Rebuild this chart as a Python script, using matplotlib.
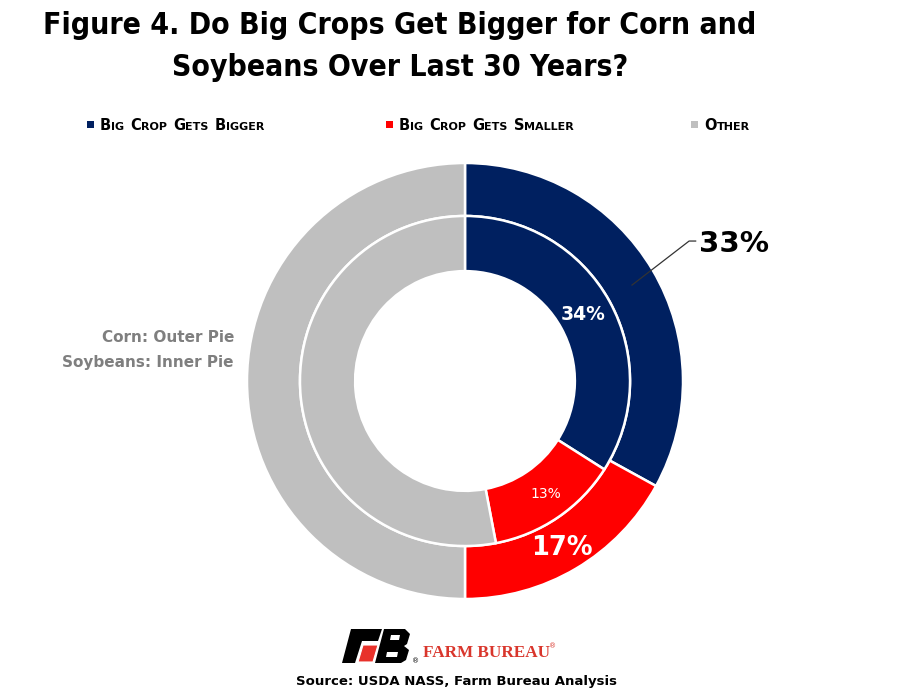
import matplotlib
matplotlib.use("Agg")
import matplotlib.pyplot as plt
from matplotlib import font_manager
from matplotlib.patches import Polygon, Rectangle

# ---------------- data ----------------
categories = ["Big Crop Gets Bigger", "Big Crop Gets Smaller", "Other"]
corn_share = [33, 17, 50]      # outer pie
soy_share = [34, 13, 53]       # inner pie
colors = ["#002060", "#FF0000", "#BFBFBF"]
title_lines = ["Figure 4. Do Big Crops Get Bigger for Corn and",
               "Soybeans Over Last 30 Years?"]
note_lines = ["Corn: Outer Pie", "Soybeans: Inner Pie"]
source_text = "Source: USDA NASS, Farm Bureau Analysis"

W, H = 900, 700
fig = plt.figure(figsize=(9, 7), dpi=100)
fig.patch.set_facecolor("white")

def fx(px):
    return px / W

def fy(py):
    return 1 - py / H

# look for a narrow/condensed bold face for the title
title_fp = None
cands = []
for f in font_manager.fontManager.ttflist:
    nm = f.name.lower()
    fn = f.fname.lower()
    is_narrow = ("narrow" in nm or "condensed" in nm or "narrow" in fn or "condensed" in fn
                 or str(f.stretch) in ("condensed", "semi-condensed"))
    is_bold = (f.weight in ("bold", 700, "semibold", 600)) or "bold" in fn
    if is_narrow and is_bold and "italic" not in fn and "oblique" not in fn:
        cands.append(f)
pref = ["liberation", "dejavu", "roboto", "open", "noto"]
cands.sort(key=lambda f: next((i for i, p in enumerate(pref) if p in f.fname.lower()), 99))
if cands:
    title_fp = font_manager.FontProperties(fname=cands[0].fname, size=21.6)
else:
    title_fp = font_manager.FontProperties(family="DejaVu Sans", weight="bold", size=17)

# ---------------- title ----------------
fig.text(fx(400), fy(26), title_lines[0], ha="center", va="center",
         fontproperties=title_fp, color="black")
fig.text(fx(400), fy(68), title_lines[1], ha="center", va="center",
         fontproperties=title_fp, color="black")

# ---------------- legend (small caps) ----------------
renderer = fig.canvas.get_renderer()

def small_caps(x_px, y_px, text, big=10.5, small=8.0, color="black"):
    x = x_px
    for wi, word in enumerate(text.split(" ")):
        if wi > 0:
            t = fig.text(fx(x), fy(y_px), " ", fontsize=big, fontweight="bold",
                         ha="left", va="baseline")
            x += t.get_window_extent(renderer).width + 1
        t = fig.text(fx(x), fy(y_px), word[0].upper(), fontsize=big, fontweight="bold",
                     ha="left", va="baseline", color=color)
        x += t.get_window_extent(renderer).width
        if len(word) > 1:
            t = fig.text(fx(x), fy(y_px), word[1:].upper(), fontsize=small, fontweight="bold",
                         ha="left", va="baseline", color=color)
            x += t.get_window_extent(renderer).width

legend_x = [91, 390, 695]
for lx, lab, col in zip(legend_x, categories, colors):
    fig.patches.append(Rectangle((fx(lx - 4), fy(128)), 7 / W, 7 / H,
                                 transform=fig.transFigure, facecolor=col,
                                 edgecolor="none", figure=fig))
    small_caps(lx + 9, 130, lab)

# ---------------- pies ----------------
cx, cy, R = 465, 381, 218
ax = fig.add_axes([fx(cx - R), fy(cy + R), 2 * R / W, 2 * R / H])
outer_r = 1.0
inner_r = 0.757
hole_r = 0.504
ax.pie(corn_share, radius=outer_r, colors=colors, startangle=90, counterclock=False,
       wedgeprops=dict(width=outer_r - inner_r, edgecolor="white", linewidth=1.8))
ax.pie(soy_share, radius=inner_r, colors=colors, startangle=90, counterclock=False,
       wedgeprops=dict(width=inner_r - hole_r, edgecolor="white", linewidth=1.8))
ax.set_xlim(-1, 1)
ax.set_ylim(-1, 1)
ax.set_aspect("equal")
ax.axis("off")

# data labels
ax.text(0.541, 0.307, f"{soy_share[0]}%", color="white", fontsize=13.5,
        fontweight="bold", ha="center", va="center")
ax.text(0.372, -0.518, f"{soy_share[1]}%", color="white", fontsize=10,
        ha="center", va="center")
ax.text(0.445, -0.766, f"{corn_share[1]}%", color="white", fontsize=18.5,
        fontweight="bold", ha="center", va="center")
ax.plot([0.766, 1.028, 1.058], [0.44, 0.642, 0.642], color="#333333", lw=0.9,
        clip_on=False)
ax.text(1.075, 0.628, f"{corn_share[0]}%", color="black", fontsize=21,
        fontweight="bold", ha="left", va="center", clip_on=False)

# ---------------- note ----------------
fig.text(fx(234), fy(338), note_lines[0], ha="right", va="center",
         fontsize=11, fontweight="bold", color="#7F7F7F")
fig.text(fx(234), fy(362), note_lines[1], ha="right", va="center",
         fontsize=11, fontweight="bold", color="#7F7F7F")

# ---------------- logo ----------------
lax = fig.add_axes([0, 0, 1, 1], facecolor="none")
lax.set_xlim(0, W)
lax.set_ylim(H, 0)
lax.axis("off")
F_shape = [(351, 629), (382, 629), (378, 641), (362, 641), (355, 663), (342, 663)]
B_shape = [(384, 629), (405, 629), (410, 634), (407, 644), (404, 646), (409, 650),
           (406, 660), (401, 663), (375, 663)]
red_shape = [(363, 645), (378, 645), (373, 662), (358, 662)]
lax.add_patch(Polygon(F_shape, closed=True, facecolor="black", edgecolor="none"))
lax.add_patch(Polygon(B_shape, closed=True, facecolor="black", edgecolor="none"))
lax.add_patch(Polygon(red_shape, closed=True, facecolor="#E8312A", edgecolor="white", lw=0.8))
lax.add_patch(Polygon([(391, 635), (400, 635), (399, 640), (390, 640)], closed=True,
                      facecolor="white", edgecolor="none"))
lax.add_patch(Polygon([(387, 652), (398, 652), (397, 657), (386, 657)], closed=True,
                      facecolor="white", edgecolor="none"))
lax.text(412, 661, "®", fontsize=5, color="black", ha="left", va="center")
fig.text(fx(423), fy(653), "FARM BUREAU", family=["Liberation Serif", "DejaVu Serif"],
         fontsize=12.3, fontweight="bold", color="#D9362C", ha="left", va="center")
fig.text(fx(549), fy(646), "®", fontsize=5, color="#D9362C", ha="left", va="center")

# ---------------- source ----------------
fig.text(fx(457), fy(681), source_text, ha="center", va="center",
         fontsize=9.5, fontweight="bold", color="black")

fig.savefig("out.png", dpi=100, facecolor="white")
